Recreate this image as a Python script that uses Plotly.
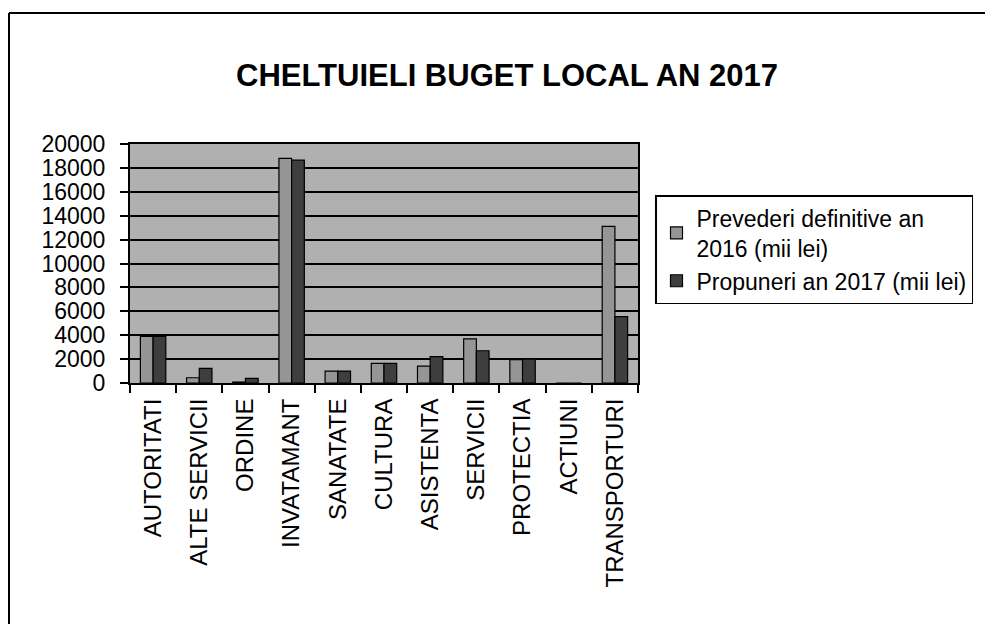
import plotly.graph_objects as go

categories = ["AUTORITATI", "ALTE SERVICII", "ORDINE", "INVATAMANT", "SANATATE",
              "CULTURA", "ASISTENTA", "SERVICII", "PROTECTIA", "ACTIUNI", "TRANSPORTURI"]
prevederi_2016 = [3900, 440, 80, 18800, 1000, 1650, 1420, 3700, 1950, 0, 13100]
propuneri_2017 = [3900, 1220, 390, 18650, 1000, 1650, 2200, 2700, 2000, 0, 5550]
y_ticks = list(range(0, 20001, 2000))

# page body has an 8px margin; work in window pixels and shift
O = 8
W, H = 993 - O, 624 - O
L, R, T, B = 130 - O, 638 - O, 144 - O, 383 - O

def px(x):
    return (x - O - L) / (R - L)

def py(y):
    return (B - (y - O)) / (B - T)

fig = go.Figure()
fig.add_trace(go.Bar(
    x=categories, y=prevederi_2016, name="Prevederi definitive an<br>2016 (mii lei)",
    marker=dict(color="#959595", line=dict(color="black", width=1.2)),
))
fig.add_trace(go.Bar(
    x=categories, y=propuneri_2017, name="Propuneri an 2017 (mii lei)",
    marker=dict(color="#3e3e3e", line=dict(color="black", width=1.2)),
))

fig.update_layout(
    width=W, height=H,
    margin=dict(l=L, r=W - R, t=T, b=H - B, pad=0),
    paper_bgcolor="white",
    plot_bgcolor="#b0b0b0",
    barmode="group", bargap=0.45, bargroupgap=0,
    font=dict(family="Arial, Liberation Sans, sans-serif", color="black"),
    title=dict(text="<b>CHELTUIELI BUGET LOCAL AN 2017</b>", x=(507 - O) / W, xanchor="center",
               y=1 - (75 - O) / H, yanchor="middle", font=dict(size=31, color="black")),
    legend=dict(x=px(655), y=py(195), xanchor="left", yanchor="top",
                bgcolor="white", bordercolor="black", borderwidth=1.5,
                font=dict(size=23, color="black"), tracegroupgap=10,
                itemwidth=30),
    xaxis=dict(type="category", tickangle=-90, ticks="outside", tickson="boundaries",
               ticklen=8, tickcolor="black", tickwidth=1.5, showline=True, linecolor="black",
               linewidth=2, mirror=True, tickfont=dict(size=24), showgrid=False,
               ticklabelstandoff=4),
    yaxis=dict(range=[0, 20000], tickvals=y_ticks, ticktext=[str(v) for v in y_ticks],
               ticks="outside", ticklen=8, tickcolor="black", tickwidth=1.5,
               showline=True, linecolor="black", linewidth=2, mirror=True,
               showgrid=True, gridcolor="black", gridwidth=1.6, zeroline=False,
               tickfont=dict(size=23), ticklabelstandoff=10),
    shapes=[
        dict(type="line", xref="paper", yref="paper",
             x0=px(O + 1), x1=px(1010), y0=py(13), y1=py(13),
             line=dict(color="black", width=2), layer="below"),
        dict(type="line", xref="paper", yref="paper",
             x0=px(O + 1), x1=px(O + 1), y0=py(13), y1=py(660),
             line=dict(color="black", width=2), layer="below"),
    ],
)

fig.write_html("out.html")
